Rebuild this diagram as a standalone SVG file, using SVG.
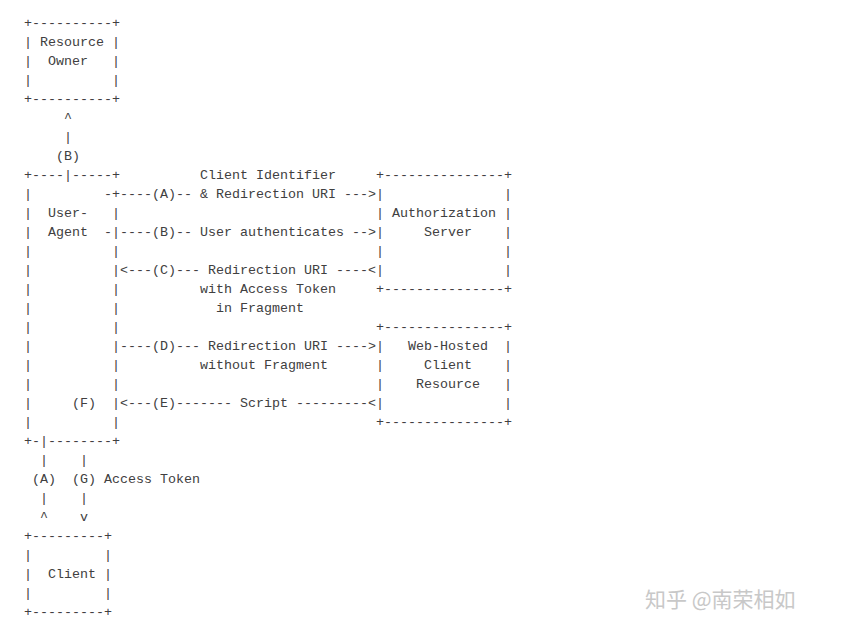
<svg xmlns="http://www.w3.org/2000/svg" width="846" height="633" viewBox="0 0 846 633">
<style>
text{font-family:"Liberation Mono","DejaVu Sans Mono",monospace;font-size:13.33px;fill:#404040;white-space:pre}
.wm{font-family:"Noto Sans CJK SC","Noto Sans",sans-serif;font-size:21px;fill:#c8c8c8}
</style>
<rect width="846" height="633" fill="#fff"/>
<g id="ascii" xml:space="preserve">
<text x="24" y="27">+----------+</text>
<text x="24" y="46">| Resource |</text>
<text x="24" y="65">|  Owner   |</text>
<text x="24" y="84">|          |</text>
<text x="24" y="103">+----------+</text>
<text x="24" y="122">     ^</text>
<text x="24" y="141">     |</text>
<text x="24" y="160">    (B)</text>
<text x="24" y="179">+----|-----+          Client Identifier     +---------------+</text>
<text x="24" y="198">|         -+----(A)-- &amp; Redirection URI ---&gt;|               |</text>
<text x="24" y="217">|  User-   |                                | Authorization |</text>
<text x="24" y="236">|  Agent  -|----(B)-- User authenticates --&gt;|     Server    |</text>
<text x="24" y="255">|          |                                |               |</text>
<text x="24" y="274">|          |&lt;---(C)--- Redirection URI ----&lt;|               |</text>
<text x="24" y="293">|          |          with Access Token     +---------------+</text>
<text x="24" y="312">|          |            in Fragment</text>
<text x="24" y="331">|          |                                +---------------+</text>
<text x="24" y="350">|          |----(D)--- Redirection URI ----&gt;|   Web-Hosted  |</text>
<text x="24" y="369">|          |          without Fragment      |     Client    |</text>
<text x="24" y="388">|          |                                |    Resource   |</text>
<text x="24" y="407">|     (F)  |&lt;---(E)------- Script ---------&lt;|               |</text>
<text x="24" y="426">|          |                                +---------------+</text>
<text x="24" y="445">+-|--------+</text>
<text x="24" y="464">  |    |</text>
<text x="24" y="483"> (A)  (G) Access Token</text>
<text x="24" y="502">  |    |</text>
<text x="24" y="521">  ^    v</text>
<text x="24" y="540">+---------+</text>
<text x="24" y="559">|         |</text>
<text x="24" y="578">|  Client |</text>
<text x="24" y="597">|         |</text>
<text x="24" y="616">+---------+</text>
</g>
<g id="watermark"><text class="wm" x="645" y="607">知乎 @南荣相如</text></g>
</svg>
